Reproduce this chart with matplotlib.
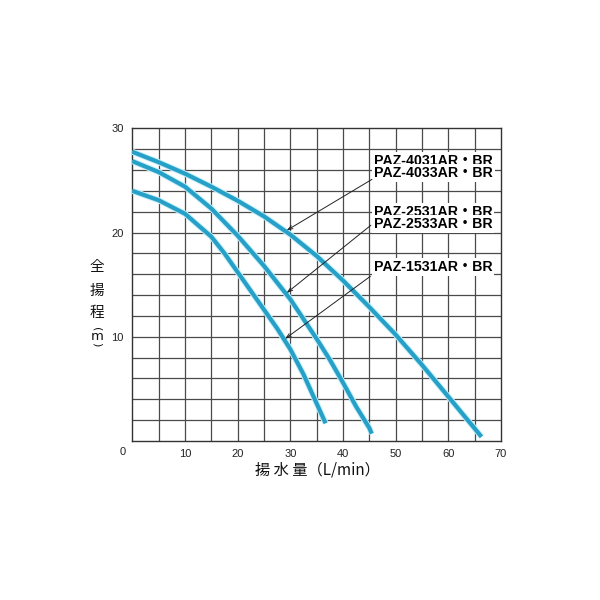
import matplotlib
matplotlib.use("Agg")
import matplotlib.pyplot as plt

# ---- data ----
flow_40 = [0, 5, 10, 15, 20, 25, 30, 35, 40, 45, 50, 55, 60, 65, 66.3]
head_40 = [27.75, 26.75, 25.65, 24.4, 23.05, 21.55, 19.8, 17.75, 15.4, 12.85, 10.2, 7.3, 4.25, 1.2, 0.4]

flow_25 = [0, 5, 10, 15, 20, 25, 30, 35, 37.5, 40, 42.5, 45, 45.45]
head_25 = [26.85, 25.8, 24.4, 22.3, 19.7, 16.8, 13.6, 9.8, 7.8, 5.6, 3.3, 1.25, 0.7]

flow_15 = [0, 5, 10, 15, 17.5, 20, 25, 27.5, 30, 32.5, 35, 36.7]
head_15 = [24.0, 23.1, 21.8, 19.6, 18.0, 16.2, 12.6, 10.8, 8.8, 6.4, 3.6, 1.7]

labels_40 = ["PAZ-4031AR・BR", "PAZ-4033AR・BR"]
labels_25 = ["PAZ-2531AR・BR", "PAZ-2533AR・BR"]
labels_15 = ["PAZ-1531AR・BR"]

x_ticks = [10, 20, 30, 40, 50, 60, 70]
y_ticks = [10, 20, 30]

LINE = "#27a0c8"
HALO = "#c4f0fb"
GRID = "#4a4a4a"
LAT = ["Liberation Sans", "Noto Sans CJK JP", "DejaVu Sans"]
CJK = ["Noto Sans CJK JP", "DejaVu Sans"]

fig = plt.figure(figsize=(6, 6), dpi=100)
fig.patch.set_facecolor("white")
ax = fig.add_axes([132.3 / 600, 1 - 441 / 600, (501 - 132.3) / 600, (441 - 128.3) / 600])
ax.set_xlim(0, 70)
ax.set_ylim(0, 30)

# grid every 5 L/min and every 2 m
for gx in range(5, 70, 5):
    ax.axvline(gx, color=GRID, lw=0.9, zorder=1)
for gy in range(2, 30, 2):
    ax.axhline(gy, color=GRID, lw=0.9, zorder=1)
for s in ax.spines.values():
    s.set_color("#333333")
    s.set_linewidth(1.0)

for fx, hy in [(flow_40, head_40), (flow_25, head_25), (flow_15, head_15)]:
    ax.plot(fx, hy, color=HALO, lw=4.4, solid_joinstyle="round", solid_capstyle="butt", zorder=3)
    ax.plot(fx, hy, color=LINE, lw=3.0, solid_joinstyle="round", solid_capstyle="butt", zorder=4)

# ticks
ax.set_xticks(x_ticks)
ax.set_yticks(y_ticks)
ax.tick_params(length=0, labelsize=8, labelcolor="#222222", pad=6)
for lab in ax.get_xticklabels() + ax.get_yticklabels():
    lab.set_family(LAT)
ax.text(-1.8, -1.05, "0", fontsize=8, color="#222222", family=LAT,
        ha="center", va="center", clip_on=False)

# model labels with white backgrounds
bb = dict(facecolor="white", edgecolor="none", pad=1.2)
label_x = 45.9
for txt, yy in zip(labels_40, [26.9, 25.7]):
    ax.text(label_x, yy, txt, fontsize=10.2, fontweight="bold", family=LAT,
            ha="left", va="center", bbox=bb, zorder=6)
for txt, yy in zip(labels_25, [22.0, 20.8]):
    ax.text(label_x, yy, txt, fontsize=10.2, fontweight="bold", family=LAT,
            ha="left", va="center", bbox=bb, zorder=6)
for txt, yy in zip(labels_15, [16.7]):
    ax.text(label_x, yy, txt, fontsize=10.2, fontweight="bold", family=LAT,
            ha="left", va="center", bbox=bb, zorder=6)

# leader lines
leaders = [((45.5, 25.1), (29.3, 20.2)),
           ((45.3, 20.7), (29.3, 14.2)),
           ((45.2, 15.8), (29.0, 9.8))]
for (sx, sy), (ex, ey) in leaders:
    ax.annotate("", xy=(ex, ey), xytext=(sx, sy),
                arrowprops=dict(arrowstyle="->,head_length=0.35,head_width=0.12",
                                color="#222222", lw=0.7, shrinkA=0, shrinkB=0),
                zorder=7)

# axis titles
fig.text(317 / 600, 1 - 470 / 600, "揚 水 量（L/min）", fontsize=11, family=CJK,
         ha="center", va="center", color="#111111")
for ch, py in [("全", 266.7), ("揚", 290.5), ("程", 312.5)]:
    fig.text(97 / 600, 1 - py / 600, ch, fontsize=10.5, family=CJK,
             ha="center", va="center", color="#111111")
fig.text(97 / 600, 1 - 329 / 600, "(", fontsize=8, family="DejaVu Sans", rotation=-90,
         ha="center", va="center", color="#111111")
fig.text(97 / 600, 1 - 336.5 / 600, "m", fontsize=9.5, family="DejaVu Sans",
         ha="center", va="center", color="#111111")
fig.text(97 / 600, 1 - 344.5 / 600, ")", fontsize=8, family="DejaVu Sans", rotation=-90,
         ha="center", va="center", color="#111111")

fig.savefig("out.png", dpi=100, facecolor="white")
